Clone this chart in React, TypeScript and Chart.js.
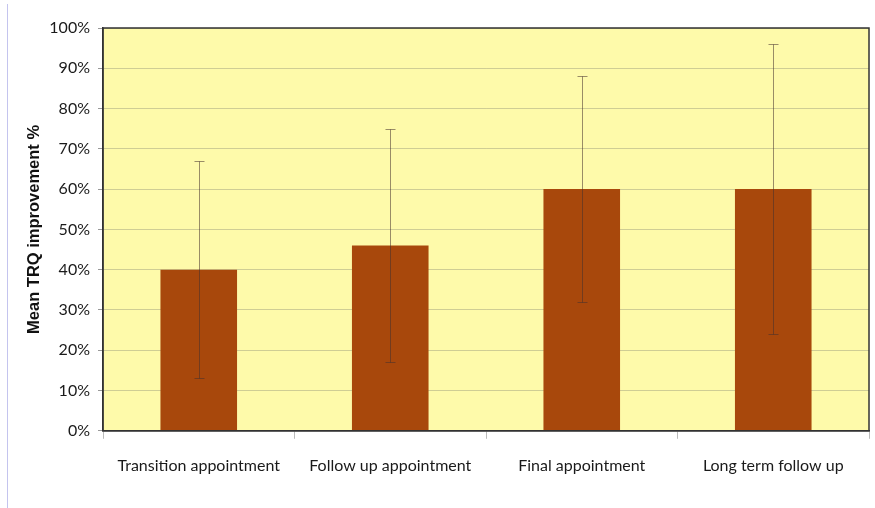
import React, { useEffect, useRef } from "react";
import { Chart, registerables } from "chart.js";

Chart.register(...registerables);

const categories = [
  "Transition appointment",
  "Follow up appointment",
  "Final appointment",
  "Long term follow up",
];
const meanValues = [40, 46, 60, 60];
const errLow = [13, 17, 32, 24];
const errHigh = [67, 75, 88, 96];
const yTicks = [0, 10, 20, 30, 40, 50, 60, 70, 80, 90, 100];

const FONT = "Lato, 'Open Sans', sans-serif";

const bgPlugin = {
  id: "plotBg",
  beforeDraw(chart: any) {
    const { ctx, chartArea: a } = chart;
    ctx.save();
    ctx.fillStyle = "#FEFAAA";
    ctx.fillRect(a.left, a.top, a.right - a.left, a.bottom - a.top);
    ctx.restore();
  },
  afterDraw(chart: any) {
    const { ctx, chartArea: a } = chart;
    ctx.save();
    ctx.strokeStyle = "#333333";
    ctx.lineWidth = 1.5;
    ctx.strokeRect(a.left, a.top, a.right - a.left, a.bottom - a.top);
    ctx.restore();
  },
};

const errorBarPlugin = {
  id: "errorBars",
  afterDatasetsDraw(chart: any) {
    const { ctx } = chart;
    const meta = chart.getDatasetMeta(0);
    const y = chart.scales.y;
    ctx.save();
    ctx.strokeStyle = "rgba(70,50,45,0.55)";
    ctx.lineWidth = 1;
    meta.data.forEach((bar: any, i: number) => {
      const x = Math.round(bar.x) + 0.5;
      const yl = Math.round(y.getPixelForValue(errLow[i])) + 0.5;
      const yh = Math.round(y.getPixelForValue(errHigh[i])) + 0.5;
      ctx.beginPath();
      ctx.moveTo(x, yl);
      ctx.lineTo(x, yh);
      ctx.moveTo(x - 5, yl);
      ctx.lineTo(x + 5, yl);
      ctx.moveTo(x - 5, yh);
      ctx.lineTo(x + 5, yh);
      ctx.stroke();
    });
    ctx.restore();
  },
};

export default function App() {
  const ref = useRef<HTMLCanvasElement>(null);
  useEffect(() => {
    if (!ref.current) return;
    const chart = new Chart(ref.current, {
      type: "bar",
      data: {
        labels: categories,
        datasets: [
          {
            data: meanValues,
            backgroundColor: "#A8480C",
            borderWidth: 0,
            categoryPercentage: 0.8,
            barPercentage: 0.5,
          },
        ],
      },
      options: {
        responsive: false,
        animation: false,
        events: [],
        layout: { padding: { left: 20, right: 6, top: 28, bottom: 16 } },
        plugins: { legend: { display: false }, tooltip: { enabled: false } },
        scales: {
          x: {
            grid: {
              display: true,
              drawOnChartArea: false,
              drawTicks: true,
              tickLength: 8,
              tickColor: "#bbbbbb",
            },
            border: { display: true, color: "#333333", width: 1.5 },
            ticks: {
              color: "#1a1a1a",
              padding: 17,
              font: { family: FONT, size: 16 },
            },
          },
          y: {
            min: 0,
            max: 100,
            afterBuildTicks(scale: any) {
              scale.ticks = yTicks.map((v) => ({ value: v }));
            },
            afterFit(scale: any) {
              scale.width = 83;
            },
            grid: {
              color: "rgba(120,120,110,0.35)",
              tickColor: "#999999",
              tickLength: 5,
              lineWidth: 1,
            },
            border: { display: true, color: "#333333", width: 1.5 },
            ticks: {
              color: "#1a1a1a",
              padding: 8,
              font: { family: FONT, size: 16 },
              callback: (v: any) => v + "%",
            },
            title: {
              display: true,
              text: "Mean TRQ improvement %",
              color: "#111111",
              font: { family: "'Liberation Sans', Arial, sans-serif", size: 16.5, weight: "bold" },
              padding: { top: 5, bottom: 0 },
            },
          },
        },
      },
      plugins: [bgPlugin, errorBarPlugin],
    });
    return () => chart.destroy();
  }, []);
  return (
    <div style={{ position: "fixed", left: 0, top: 0, width: 875, height: 508, background: "#fff" }}>
      <div
        style={{
          position: "absolute",
          left: 7,
          top: 4,
          bottom: 0,
          width: 0,
          borderLeft: "1px solid #c4c4ee",
        }}
      />
      <canvas ref={ref} width={875} height={508} style={{ display: "block" }} />
    </div>
  );
}
